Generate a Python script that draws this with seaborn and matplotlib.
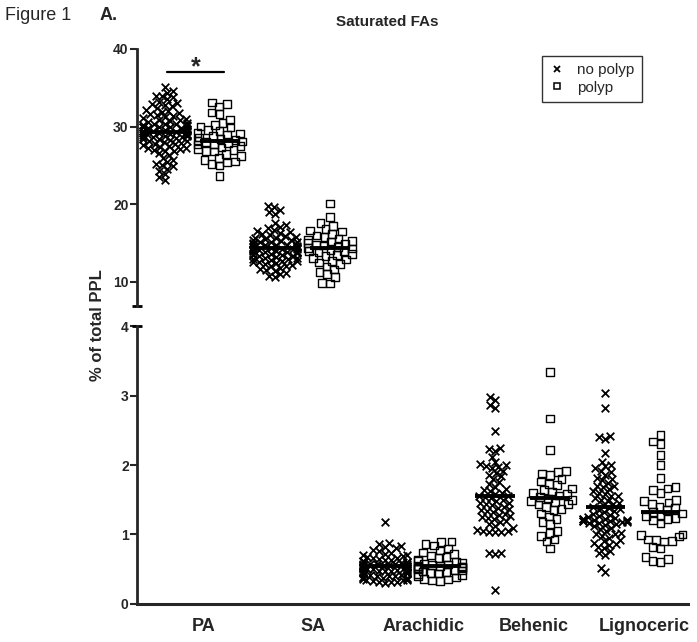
import matplotlib
matplotlib.use("Agg")
import matplotlib.pyplot as plt
from matplotlib.collections import PathCollection
from matplotlib.lines import Line2D
import pandas as pd
import seaborn as sns

CATEGORIES = ["PA", "SA", "Arachidic", "Behenic", "Lignoceric"]
GROUPS = ["no polyp", "polyp"]
UPPER_CATS = ["PA", "SA"]

pa_no_polyp = [35.1, 34.6, 34.3, 34.0, 33.9, 33.8, 33.5, 33.2, 33.0, 32.9, 32.8, 32.6, 32.4, 32.2,
               32.0, 31.9, 31.7, 31.6, 31.5, 31.4, 31.2, 31.1, 31.0, 30.9, 30.8, 30.7, 30.6, 30.5,
               30.4, 30.4, 30.3, 30.2, 30.2, 30.1, 30.0, 30.0, 29.9, 29.9, 29.8, 29.8, 29.7, 29.6,
               29.6, 29.5, 29.5, 29.5, 29.4, 29.3, 29.3, 29.2, 29.2, 29.1, 29.0, 29.0, 28.9, 28.9,
               28.8, 28.8, 28.7, 28.7, 28.6, 28.5, 28.4, 28.4, 28.3, 28.2, 28.1, 28.0, 27.9, 27.8,
               27.7, 27.6, 27.5, 27.4, 27.3, 27.2, 27.1, 27.0, 26.9, 26.8, 26.6, 26.3, 26.0, 25.7,
               25.4, 25.2, 25.0, 24.9, 24.6, 24.3, 23.9, 23.5, 23.1]
pa_polyp = [33.1, 32.9, 32.6, 31.8, 31.6, 30.9, 30.5, 30.2, 30.0, 29.9, 29.6, 29.4, 29.2, 29.1,
            29.0, 28.8, 28.6, 28.4, 28.3, 28.2, 28.1, 28.0, 27.9, 27.8, 27.7, 27.5, 27.3, 27.1,
            27.0, 26.9, 26.8, 26.5, 26.2, 26.0, 25.7, 25.5, 25.4, 25.2, 25.0, 23.6]
sa_no_polyp = [19.8, 19.6, 19.3, 19.0, 18.8, 17.6, 17.3, 17.1, 16.9, 16.7, 16.5, 16.4, 16.3, 16.2,
               16.0, 15.9, 15.8, 15.7, 15.6, 15.5, 15.4, 15.4, 15.3, 15.2, 15.1, 15.1, 15.0, 14.9,
               14.9, 14.8, 14.8, 14.7, 14.6, 14.6, 14.5, 14.5, 14.4, 14.4, 14.3, 14.3, 14.2, 14.2,
               14.1, 14.1, 14.0, 14.0, 13.9, 13.9, 13.8, 13.8, 13.7, 13.6, 13.6, 13.5, 13.5, 13.4,
               13.3, 13.2, 13.1, 13.1, 13.0, 12.9, 12.8, 12.7, 12.7, 12.6, 12.5, 12.4, 12.3, 12.2,
               12.1, 12.0, 11.8, 11.6, 11.5, 11.4, 11.2, 11.0, 10.8, 10.6]
sa_polyp = [20.1, 18.4, 17.6, 17.2, 16.8, 16.6, 16.5, 16.2, 16.0, 15.8, 15.6, 15.4, 15.3, 15.2,
            15.0, 14.9, 14.8, 14.7, 14.5, 14.4, 14.3, 14.1, 14.0, 13.9, 13.8, 13.6, 13.5, 13.3,
            13.1, 12.9, 12.7, 12.5, 12.3, 12.0, 11.6, 11.3, 11.0, 10.6, 9.9, 9.8]
arachidic_no_polyp = [1.18, 0.88, 0.86, 0.84, 0.82, 0.80, 0.78, 0.76, 0.74, 0.72, 0.70, 0.70, 0.69,
                      0.68, 0.66, 0.66, 0.65, 0.64, 0.63, 0.62, 0.62, 0.61, 0.60, 0.60, 0.59, 0.58,
                      0.58, 0.58, 0.57, 0.57, 0.56, 0.56, 0.56, 0.55, 0.55, 0.54, 0.54, 0.54, 0.53,
                      0.53, 0.52, 0.52, 0.52, 0.51, 0.51, 0.50, 0.50, 0.50, 0.49, 0.49, 0.48, 0.48,
                      0.48, 0.47, 0.46, 0.46, 0.45, 0.45, 0.44, 0.44, 0.43, 0.42, 0.42, 0.41, 0.40,
                      0.40, 0.39, 0.38, 0.38, 0.37, 0.36, 0.36, 0.35, 0.34, 0.34, 0.33, 0.32, 0.32,
                      0.31, 0.30]
arachidic_polyp = [0.90, 0.89, 0.86, 0.84, 0.80, 0.77, 0.74, 0.72, 0.70, 0.68, 0.66, 0.64, 0.62,
                   0.60, 0.59, 0.58, 0.57, 0.56, 0.55, 0.55, 0.54, 0.53, 0.52, 0.52, 0.51, 0.50,
                   0.49, 0.48, 0.47, 0.46, 0.45, 0.44, 0.43, 0.42, 0.40, 0.38, 0.36, 0.35, 0.34,
                   0.33]
behenic_no_polyp = [2.98, 2.94, 2.86, 2.82, 2.49, 2.25, 2.23, 2.20, 2.12, 2.05, 2.02, 2.00, 1.98,
                    1.97, 1.95, 1.92, 1.88, 1.86, 1.84, 1.80, 1.76, 1.72, 1.69, 1.66, 1.64, 1.62,
                    1.60, 1.58, 1.56, 1.55, 1.54, 1.52, 1.50, 1.48, 1.46, 1.45, 1.44, 1.42, 1.40,
                    1.38, 1.36, 1.35, 1.34, 1.32, 1.30, 1.28, 1.26, 1.25, 1.24, 1.22, 1.20, 1.18,
                    1.15, 1.12, 1.10, 1.07, 1.05, 1.05, 1.04, 1.04, 1.03, 0.74, 0.73, 0.72, 0.20]
behenic_polyp = [3.34, 2.67, 2.22, 1.91, 1.90, 1.88, 1.86, 1.80, 1.76, 1.73, 1.71, 1.66, 1.64,
                 1.62, 1.60, 1.58, 1.56, 1.54, 1.52, 1.50, 1.48, 1.46, 1.44, 1.43, 1.40, 1.37,
                 1.35, 1.30, 1.26, 1.22, 1.18, 1.15, 1.05, 1.02, 0.98, 0.93, 0.90, 0.80]
lignoceric_no_polyp = [3.03, 2.82, 2.42, 2.40, 2.37, 2.17, 2.05, 2.00, 1.98, 1.95, 1.92, 1.90, 1.86,
                       1.82, 1.80, 1.78, 1.74, 1.70, 1.70, 1.68, 1.65, 1.62, 1.60, 1.58, 1.55, 1.55,
                       1.52, 1.50, 1.48, 1.46, 1.44, 1.42, 1.40, 1.38, 1.36, 1.35, 1.34, 1.32, 1.30,
                       1.28, 1.26, 1.25, 1.24, 1.23, 1.22, 1.22, 1.21, 1.21, 1.20, 1.20, 1.19, 1.19,
                       1.18, 1.18, 1.17, 1.16, 1.15, 1.14, 1.12, 1.10, 1.08, 1.05, 1.02, 1.00, 1.00,
                       0.98, 0.95, 0.92, 0.90, 0.88, 0.86, 0.85, 0.82, 0.80, 0.76, 0.73, 0.70, 0.52,
                       0.46]
lignoceric_polyp = [2.43, 2.34, 2.30, 2.14, 2.00, 1.81, 1.68, 1.66, 1.64, 1.60, 1.50, 1.48, 1.46,
                    1.44, 1.40, 1.38, 1.35, 1.32, 1.30, 1.28, 1.26, 1.24, 1.22, 1.20, 1.16, 1.00,
                    0.99, 0.97, 0.93, 0.92, 0.91, 0.90, 0.82, 0.80, 0.68, 0.65, 0.62, 0.60]

# group means as marked by the horizontal bars
mean_no_polyp = [29.3, 14.4, 0.55, 1.55, 1.40]
mean_polyp = [28.1, 14.4, 0.54, 1.52, 1.32]

series = {
    ("PA", "no polyp"): pa_no_polyp, ("PA", "polyp"): pa_polyp,
    ("SA", "no polyp"): sa_no_polyp, ("SA", "polyp"): sa_polyp,
    ("Arachidic", "no polyp"): arachidic_no_polyp, ("Arachidic", "polyp"): arachidic_polyp,
    ("Behenic", "no polyp"): behenic_no_polyp, ("Behenic", "polyp"): behenic_polyp,
    ("Lignoceric", "no polyp"): lignoceric_no_polyp, ("Lignoceric", "polyp"): lignoceric_polyp,
}
COLUMNS = [f"{fa}|{grp}" for fa in CATEGORIES for grp in GROUPS]
rows = [(f"{fa}|{grp}", fa, grp, v) for (fa, grp), vals in series.items() for v in vals]
df = pd.DataFrame(rows, columns=["column", "fa", "group", "value"])

sns.set_theme(style="ticks")
plt.rcParams["font.family"] = ["Liberation Sans", "DejaVu Sans"]

fig = plt.figure(figsize=(6.97, 6.42), dpi=100)
ax_up = fig.add_axes([0.1966, 0.5234, 0.7905, 0.4003])
ax_lo = fig.add_axes([0.1966, 0.0592, 0.7905, 0.4330])

HALF = 0.36
# marker size used for the swarm packing (points overlap like in Prism), then the drawn size
LAYOUT_SIZE = {"x": 3.0, "s": 4.6}
MARKER_SIZE = 5.5


def draw_points(ax, data):
    for group, marker in zip(GROUPS, ["x", "s"]):
        sub = data[data["group"] == group]
        n_before = len(ax.collections)
        sns.swarmplot(data=sub, x="column", y="value", order=COLUMNS, color="black",
                      marker=marker, size=LAYOUT_SIZE[marker], linewidth=1.3, edgecolor="black",
                      warn_thresh=1, ax=ax)
        if marker == "s":
            for coll in ax.collections[n_before:]:
                coll.set_facecolor("none")
                coll.set_edgecolor("black")
                coll.set_linewidth(1.0)


draw_points(ax_up, df[df["fa"].isin(UPPER_CATS)])
draw_points(ax_lo, df[~df["fa"].isin(UPPER_CATS)])

for ax in (ax_up, ax_lo):
    ax.set_xlim(-0.5, len(COLUMNS) - 0.5)
    ax.set_xlabel("")
    ax.set_ylabel("")
    ax.spines["top"].set_visible(False)
    ax.spines["right"].set_visible(False)
    ax.spines["left"].set_linewidth(2.0)
    ax.tick_params(axis="y", direction="out", length=5, width=1.5, pad=1, labelsize=10)

ax_up.set_ylim(6.9, 40)
ax_up.set_yticks([10, 20, 30, 40])
ax_up.spines["bottom"].set_visible(False)
ax_up.tick_params(axis="x", bottom=False, labelbottom=False)
ax_lo.set_ylim(0, 4)
ax_lo.set_yticks([0, 1, 2, 3, 4])

# pack the swarms once with the small size, then freeze them and enlarge the markers
fig.canvas.draw()
for ax in (ax_up, ax_lo):
    for coll in ax.collections:
        if isinstance(coll, PathCollection):
            coll.__dict__.pop("draw", None)
            coll.set_sizes([MARKER_SIZE ** 2])

for i, fa in enumerate(CATEGORIES):
    ax = ax_up if fa in UPPER_CATS else ax_lo
    for j, m in ((2 * i, mean_no_polyp[i]), (2 * i + 1, mean_polyp[i])):
        ax.hlines(m, j - HALF, j + HALF, color="black", lw=2.8, zorder=5)

ax_up.plot([-0.0085, 0.0085], [0, 0], transform=ax_up.transAxes, color="black", lw=2.0,
           clip_on=False, solid_capstyle="butt")
ax_lo.spines["bottom"].set_linewidth(2.2)
ax_lo.set_xticks([2 * i + 0.7 for i in range(len(CATEGORIES))], CATEGORIES)
ax_lo.tick_params(axis="x", length=0, pad=10, labelsize=13)
for lab in ax_lo.get_xticklabels():
    lab.set_fontweight("bold")
ax_lo.plot([-0.0085, 0.0085], [1, 1], transform=ax_lo.transAxes, color="black", lw=2.0,
           clip_on=False, solid_capstyle="butt")
for lab in ax_up.get_yticklabels() + ax_lo.get_yticklabels():
    lab.set_fontweight("bold")

# significance bar between PA groups
ax_up.plot([0.05, 1.08], [37.0, 37.0], color="black", lw=1.6)
ax_up.text(0.56, 36.8, "*", ha="center", va="baseline", fontsize=18, fontweight="bold")

handles = [Line2D([], [], marker="x", ls="none", color="black", markersize=5, markeredgewidth=1.3),
           Line2D([], [], marker="s", ls="none", markerfacecolor="none", markeredgecolor="black",
                  markersize=5, markeredgewidth=1.1)]
leg = fig.legend(handles, GROUPS, loc="upper right", bbox_to_anchor=(0.921, 0.913),
                 bbox_transform=fig.transFigure, fontsize=11, frameon=True, fancybox=False,
                 handlelength=1.0, handletextpad=0.8, borderpad=0.5, labelspacing=0.2,
                 borderaxespad=0)
leg.get_frame().set_edgecolor("black")
leg.get_frame().set_linewidth(1.0)

fig.text(5 / 697, 1 - 20 / 642, "Figure 1", fontsize=13, va="baseline", ha="left")
fig.text(100 / 697, 1 - 20 / 642, "A.", fontsize=13, fontweight="bold", va="baseline", ha="left")
fig.text(387 / 697, 1 - 26 / 642, "Saturated FAs", fontsize=11, fontweight="bold",
         va="baseline", ha="center")
fig.text(97 / 697, 0.494, "% of total PPL", rotation=90, fontsize=12, fontweight="bold",
         va="center", ha="center")

fig.savefig("out.png", dpi=100)
